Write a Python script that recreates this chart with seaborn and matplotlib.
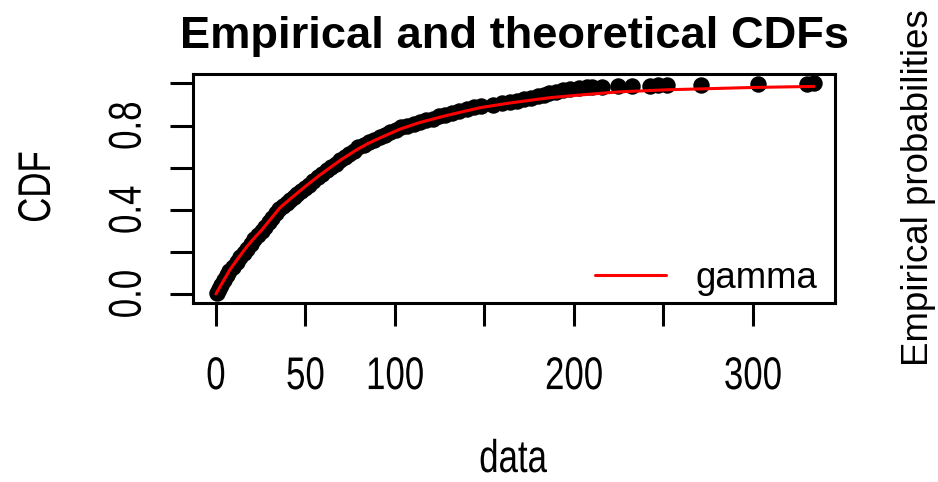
import numpy as np
import pandas as pd
import matplotlib
matplotlib.use("Agg")
import matplotlib.pyplot as plt
import seaborn as sns
from matplotlib import patheffects
from matplotlib.transforms import Affine2D

# Distinct observed values and how often each one occurs
obs_values = [0.4, 1.5, 3, 4.5, 6, 7.5,
              9.5, 11.5, 13.5, 15.5, 17.5, 19.5, 21.5, 23.5, 25.5,
              27.5, 29.5, 31.5, 33.5, 35.5,
              37.5, 39.5, 41.5, 43.5, 45.5, 47.5, 49.5,
              52, 54.5, 57, 59.5, 62, 64.5,
              67, 69.5, 72, 74.5, 77, 79.5,
              82.5, 85.5, 88.5, 91.5, 94.5, 97.5, 100.5, 103.5,
              107, 110.5, 114, 117.5, 121, 124.5, 128,
              132, 136, 140, 144, 148,
              155, 160, 164, 168, 172, 176, 180, 183, 186, 190, 194, 198, 203, 207,
              210, 215.5, 224.8, 232.3, 242.5, 247, 251.8, 271, 302.8, 330, 334]
obs_counts = [4, 9, 13, 14, 13, 13,
              12, 14, 12, 13, 12, 13, 14, 11, 12,
              13, 13, 12, 13, 13,
              8, 9, 8, 8, 9, 8, 9,
              10, 10, 10, 10, 10, 10,
              9, 10, 9, 9, 9, 10,
              7, 7, 7, 7, 7, 8, 7, 7,
              5, 5, 5, 5, 5, 6, 5,
              5, 5, 6, 5, 5,
              2, 4, 3, 4, 5, 5, 4, 4, 5, 4, 4, 3, 3, 2,
              1, 1, 1, 1, 1, 1, 1, 1, 1, 1, 1]

# Fitted gamma CDF along the range of the data
fit_x = [0, 3, 7.8, 12, 17.1, 21, 25.5, 30, 35.8, 42, 50.7, 57, 63.7, 70,
         78.6, 85, 91.6, 102.8, 114, 128.9, 147.5, 162.4, 173.6, 187, 203,
         225, 252, 300, 334]
fit_cdf = [0, 0.045, 0.115, 0.165, 0.223, 0.262, 0.303, 0.35, 0.41, 0.455,
           0.516, 0.558, 0.6, 0.638, 0.685, 0.715, 0.741, 0.783, 0.815, 0.848,
           0.885, 0.905, 0.918, 0.933, 0.945, 0.96, 0.97, 0.981, 0.986]

x_ticks = [0, 50, 100, 150, 200, 250, 300]
x_tick_labels = ["0", "50", "100", "", "200", "", "300"]
y_ticks = [0.0, 0.2, 0.4, 0.6, 0.8, 1.0]
y_tick_labels = ["0.0", "", "0.4", "", "0.8", ""]


class Condense(patheffects.AbstractPathEffect):
    """Squeeze a text path about its own centre (narrow lettering)."""

    def __init__(self, sx=1.0, sy=1.0):
        super().__init__()
        self.sx, self.sy = sx, sy

    def draw_path(self, renderer, gc, tpath, affine, rgbFace=None):
        if len(tpath.vertices) == 0:
            return
        ext = tpath.transformed(affine).get_extents()
        cx, cy = (ext.x0 + ext.x1) / 2, (ext.y0 + ext.y1) / 2
        squeeze = (Affine2D().translate(-cx, -cy)
                   .scale(self.sx, self.sy).translate(cx, cy))
        renderer.draw_path(gc, tpath, affine + squeeze, rgbFace)


sns.set_theme(style="white")
plt.rcParams["font.family"] = ["Liberation Sans", "DejaVu Sans"]
for key in ("text.color", "axes.labelcolor", "xtick.color", "ytick.color",
            "axes.edgecolor"):
    plt.rcParams[key] = "black"

narrow_h = [Condense(sx=0.76)]
narrow_v = [Condense(sy=0.76)]

# empirical CDF levels at each distinct value
counts = np.asarray(obs_counts)
ecdf = pd.DataFrame({"data": obs_values,
                     "CDF": np.cumsum(counts) / counts.sum()})
fit = pd.DataFrame({"data": fit_x, "CDF": fit_cdf})

fig = plt.figure(figsize=(9.38, 4.82), dpi=100)
ax = fig.add_axes([193 / 938, 1 - 303 / 482, 642 / 938, 229 / 482])

sns.scatterplot(data=ecdf, x="data", y="CDF", ax=ax, color="black",
                s=140, linewidth=0, zorder=2)
sns.lineplot(data=fit, x="data", y="CDF", ax=ax, color="red", lw=2.2,
             sort=False, estimator=None, label="gamma", zorder=3)

ax.set_xlim(-12.8, 345.8)
ax.set_ylim(-0.043, 1.045)
ax.set_xticks(x_ticks)
ax.set_xticklabels(x_tick_labels, fontsize=33, path_effects=narrow_h)
ax.set_yticks(y_ticks)
ax.set_yticklabels(y_tick_labels, fontsize=33, rotation=90, va="center",
                   path_effects=narrow_v)
ax.tick_params(axis="x", length=16.5, width=2.2, color="black", pad=21,
               direction="out", bottom=True, labelcolor="black")
ax.tick_params(axis="y", length=16.5, width=2.2, color="black", pad=14,
               direction="out", left=True, labelcolor="black")
for sp in ax.spines.values():
    sp.set_visible(True)
    sp.set_color("black")
    sp.set_linewidth(2.2)

ax.set_xlabel("")
ax.set_ylabel("")
ax.set_title("Empirical and theoretical CDFs", fontsize=32.6,
             fontweight="bold", pad=18.7, color="black")

fig.text(513 / 938, 1 - 482 / 482, "data", fontsize=33, ha="center",
         va="bottom", color="black", path_effects=narrow_h)
fig.text(38 / 938, 1 - 187 / 482, "CDF", fontsize=33, rotation=90,
         ha="center", va="center", color="black", path_effects=narrow_v)
fig.text(918 / 938, 1 - 188 / 482, "Empirical probabilities", fontsize=26.4,
         rotation=90, ha="center", va="center", color="black")

ax.legend(loc="lower right", bbox_to_anchor=(0.972, 0.03), frameon=False,
          fontsize=26.4, handlelength=1.93, handletextpad=0.79,
          borderpad=0, borderaxespad=0)

fig.savefig("out.png", dpi=100)
